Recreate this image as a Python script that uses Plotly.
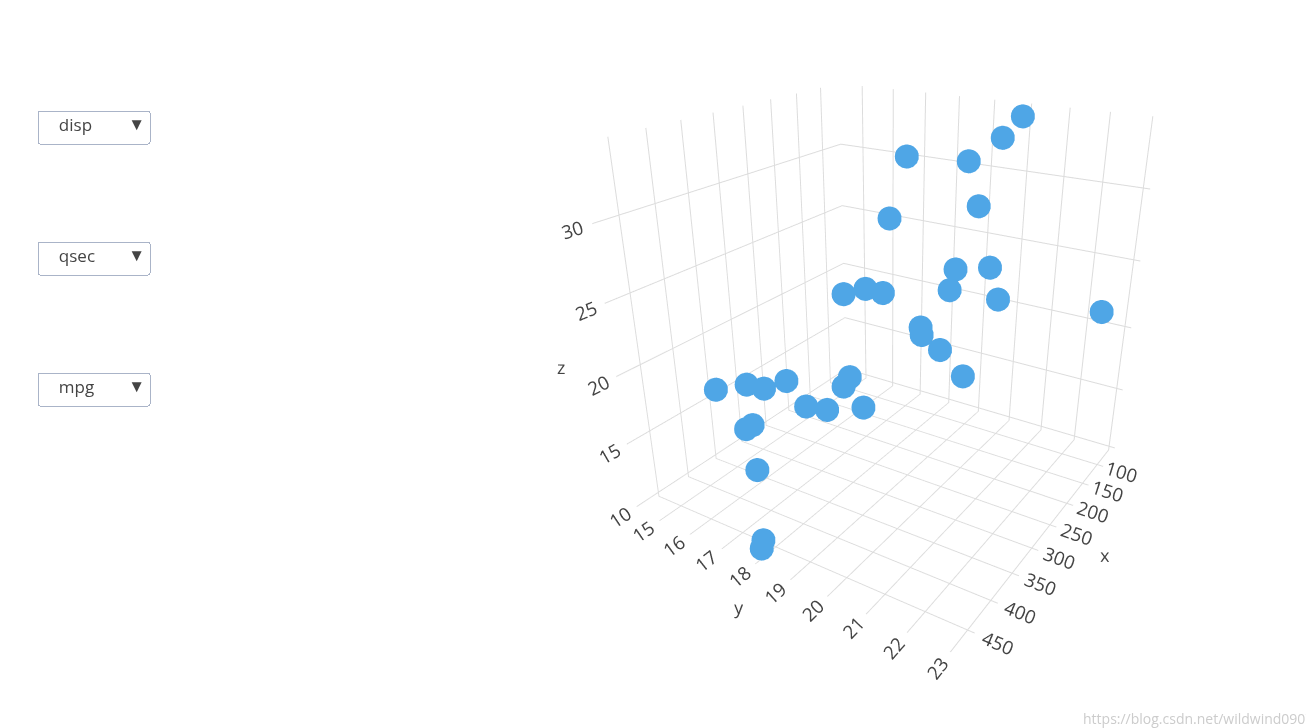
import plotly.graph_objects as go

disp = [160,160,108,258,360,225,360,146.7,140.8,167.6,167.6,275.8,275.8,275.8,472,460,440,78.7,75.7,71.1,120.1,318,304,350,400,79,120.3,95.1,351,145,301,121]
qsec = [16.46,17.02,18.61,19.44,17.02,20.22,15.84,20.0,22.9,18.3,18.9,17.4,17.6,18.0,17.98,17.82,17.42,19.47,18.52,19.9,20.01,16.87,17.3,15.41,17.05,18.9,16.7,16.9,14.5,15.5,14.6,18.6]
mpg = [21.0,21.0,22.8,21.4,18.7,18.1,14.3,24.4,22.8,19.2,17.8,16.4,17.3,15.2,10.4,10.4,14.7,32.4,30.4,33.9,21.5,15.5,15.2,13.3,19.2,27.3,26.0,30.4,15.8,19.7,15.0,21.4]
vars_ = ["mpg","disp","qsec"]

fig = go.Figure(go.Scatter3d(x=disp, y=qsec, z=mpg, mode="markers",
    marker=dict(size=14, color="#4fa6e6", line=dict(width=0))))

def menu(active, y):
    return dict(type="dropdown", x=0.022, xanchor="left", y=y, yanchor="top",
                active=active, bgcolor="white", bordercolor="#aab4c8",
                font=dict(size=17, color="#444"), pad=dict(t=0, b=0, l=0, r=0),
                buttons=[dict(label="  " + v + "      ", method="skip", args=[None]) for v in vars_])

ax = dict(gridcolor="#dcdcdc", showbackground=False, zeroline=False,
          tickfont=dict(size=15), title_font=dict(size=18))
fig.update_layout(
    width=1314, height=728, paper_bgcolor="white",
    margin=dict(l=0, r=0, t=0, b=0),
    font=dict(family="Open Sans", size=16, color="#444"),
    updatemenus=[menu(1, 0.86), menu(2, 0.68), menu(0, 0.5)],
    scene=dict(domain=dict(x=[0.36, 0.98], y=[0.0, 1.0]),
               camera=dict(eye=dict(x=1.8, y=1.15, z=0.93), center=dict(x=0, y=0, z=-0.15)),
               xaxis=dict(title="x", **ax),
               yaxis=dict(title="y", **ax),
               zaxis=dict(title="z", **ax)),
    annotations=[dict(text="https://blog.csdn.net/wildwind0907", x=0.995, y=0.008,
                      xref="paper", yref="paper", xanchor="right", yanchor="bottom",
                      showarrow=False, font=dict(size=14, color="#ccc"))],
)
fig.write_html("out.html")
